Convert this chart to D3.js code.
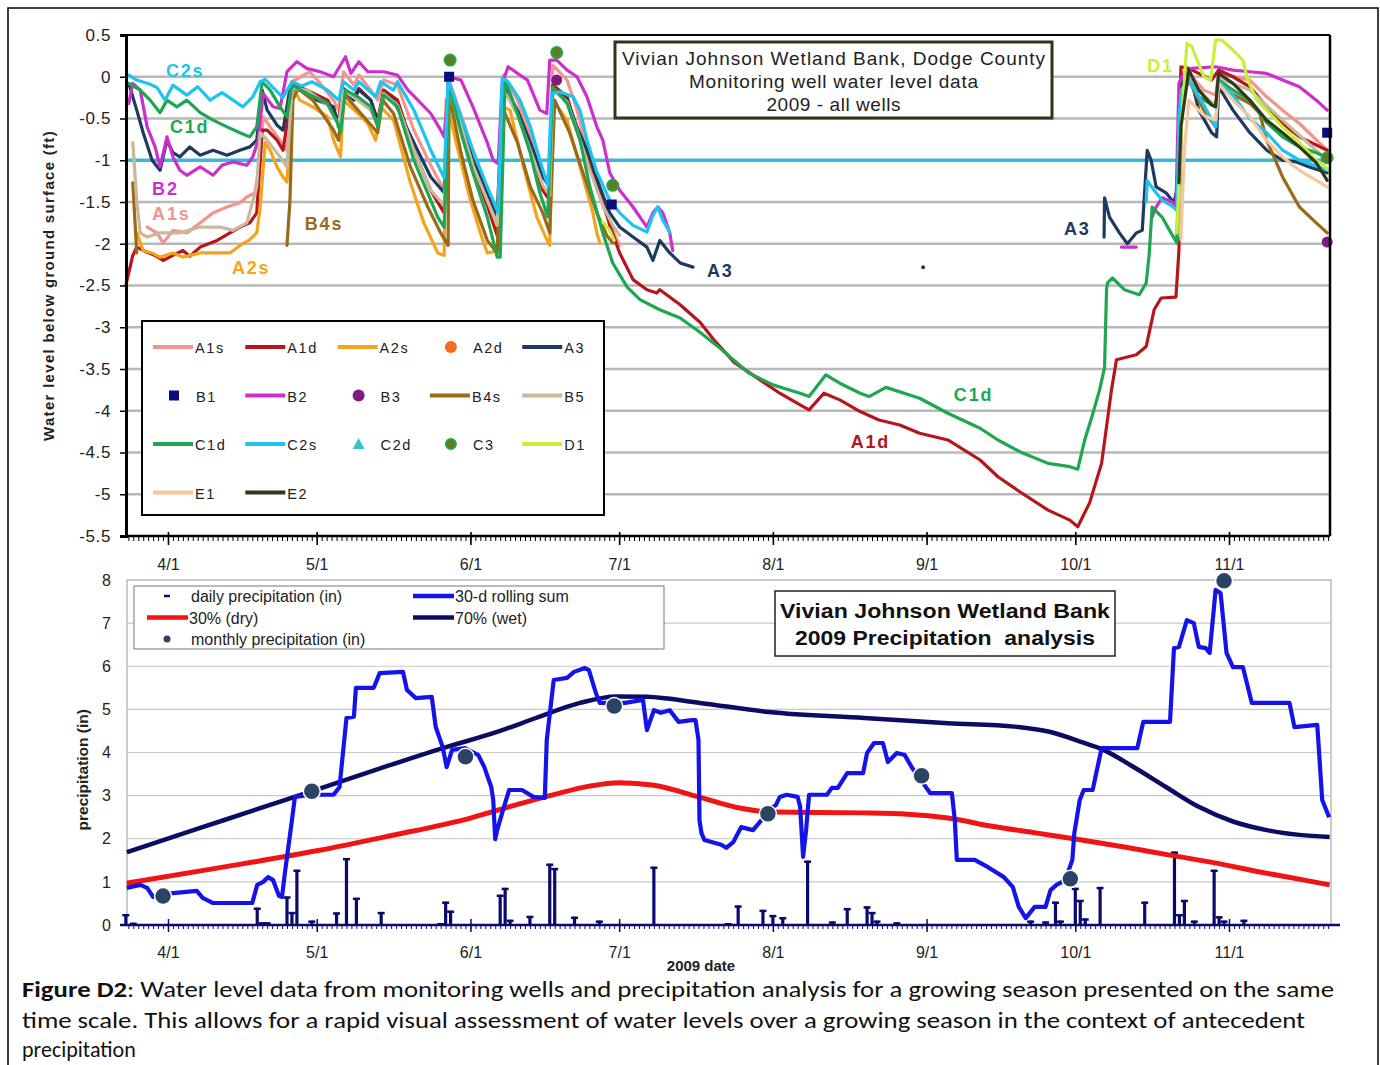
<!DOCTYPE html>
<html>
<head>
<meta charset="utf-8">
<script src="https://cdn.jsdelivr.net/npm/d3@7"></script>
<style>
  body { margin: 0; background: #fff; }
  svg { display: block; font-family: "Liberation Sans", Arial, sans-serif; }
</style>
</head>
<body>
<svg id="chart" width="1380" height="1065"></svg>
<script>
// ---------- Well water level data (ft), [date m/d, value] ----------
const wellA1s = [
  ["3/27.8",-1.8],["3/29.8",-1.87],["3/31",-1.99],["4/2",-1.84],["4/4.8",-1.87],["4/7.5",-1.75],["4/10.1",-1.63],
  ["4/12.9",-1.56],["4/15.5",-1.51],["4/16.9",-1.44],["4/18.5",-1.39],["4/19.6",-1.0],["4/20.2",-0.48],["4/21.6",-0.6],
  ["4/23.6",-0.76],["4/25",-0.88],["4/26",-0.06],["4/29.6",0.06],["5/1.7",-0.08],["5/4.4",-0.28],["5/5.4",-0.4],
  ["5/6.4",0.06],["5/8.5",-0.1],["5/9.5",0.02],["5/11.9",-0.16],["5/13.3",-0.28],["5/14.5",-0.04],["5/17.3",-0.1],
  ["5/20.6",-0.64],["5/24",-1.06],["5/26.7",-1.36],["5/27.7",-0.04],["5/30.1",-0.46],["6/1.5",-0.88],["6/4.4",-1.36],
  ["6/6.4",-1.74],["6/7.6",0.02],["6/10.5",-0.28],["6/13.1",-0.7],["6/15.6",-1.14],["6/17",-1.3],["6/17.6",0.14],
  ["6/20.5",-0.04],["6/22.5",-0.4],["6/25.1",-1.0],["6/27.7",-1.54],["6/29.7",-1.84],["7/1.1",-2.02],
  null,
  ["10/21.5",-1.9],["10/22.3",0.05],["10/23.9",0.04],["10/26.9",-0.16],["10/29.3",-0.22],["10/29.9",0.04],
  ["11/5.2",-0.04],["11/8.6",-0.24],["11/11.8",-0.4],["11/15.2",-0.56],["11/20.8",-0.88]
];
const wellA1d = [
  ["3/23.5",-2.5],["3/24.9",-2.14],["3/25.7",-2.04],["3/27",-2.08],["3/29.4",-2.14],["3/31",-2.2],["4/2",-2.14],
  ["4/4",-2.08],["4/5.4",-2.15],["4/7.5",-2.04],["4/10.9",-1.96],["4/13.5",-1.87],["4/15.5",-1.8],["4/17.5",-1.75],
  ["4/18.9",-1.63],["4/20",-0.64],["4/21",-0.64],["4/23",-0.76],["4/24.2",-0.88],["4/26.2",-0.1],["4/29",-0.16],
  ["5/3.2",-0.28],["5/5.4",-0.52],["5/6.4",-0.14],["5/8.5",-0.24],["5/9.5",-0.14],["5/11.9",-0.28],["5/13.3",-0.52],
  ["5/14.5",-0.16],["5/17.3",-0.28],["5/20.6",-0.88],["5/24",-1.36],["5/26.7",-1.63],["5/27.7",-0.1],["5/30.1",-0.6],
  ["6/1.5",-1.06],["6/4.4",-1.54],["6/6.4",-1.9],["6/7.6",-0.1],["6/10.5",-0.44],["6/13.1",-0.88],["6/15.6",-1.36],
  ["6/17",-1.48],["6/17.6",-0.1],["6/20.5",-0.24],["6/22.5",-0.64],["6/25.1",-1.06],["6/27.7",-1.48],["6/29.1",-1.78],
  ["7/1.1",-2.11],["7/3.8",-2.43],["7/6.6",-2.55],["7/8.6",-2.59],["7/9.2",-2.55],["7/13.3",-2.73],["7/17.3",-2.94],
  ["7/20.1",-3.15],["7/24.2",-3.42],["7/29.4",-3.63],["8/2.4",-3.79],["8/6.5",-3.93],["8/8.3",-3.99],["8/11.3",-3.79],
  ["8/14.5",-3.87],["8/18.6",-4.01],["8/22.4",-4.11],["8/26.6",-4.17],["8/30.6",-4.27],["9/5.3",-4.35],["9/11.8",-4.59],
  ["9/15.4",-4.79],["9/19.8",-4.97],["9/25.5",-5.19],["9/29.9",-5.31],["10/1.5",-5.39],["10/3.9",-5.1],["10/6.3",-4.63],
  ["10/8.3",-3.75],["10/9.3",-3.39],["10/13.3",-3.33],["10/15.3",-3.23],["10/16.9",-2.79],["10/18.3",-2.65],
  ["10/21.3",-2.64],["10/21.9",-2.08],["10/22.3",0.12],["10/23.9",0.1],["10/28.5",-0.04],["10/29.9",0.08],
  ["11/1.8",0.0],["11/5.2",-0.12],["11/8.6",-0.36],["11/11.8",-0.56],["11/15.2",-0.72],["11/20.8",-0.88]
];
const wellA2s = [
  ["3/25.7",-1.87],["3/27",-2.08],["3/28.8",-2.11],["3/30.4",-2.16],["4/2",-2.11],["4/4",-2.16],["4/7.5",-2.11],
  ["4/10.1",-2.11],["4/13.5",-2.11],["4/15.5",-2.02],["4/17.5",-1.95],["4/18.9",-1.87],["4/19.6",-1.56],["4/20.6",-0.79],
  ["4/21.6",-0.88],["4/23",-1.08],["4/24.2",-1.2],["4/25",-1.26],["4/26.2",-0.14],["4/27.6",-0.28],["4/30.2",-0.36],
  ["5/3.2",-0.48],["5/4.4",-0.76],["5/5.8",-0.96],["5/6.4",-0.28],["5/9.3",-0.44],["5/11.3",-0.56],["5/12.9",-0.76],
  ["5/13.9",-0.36],["5/16.5",-0.52],["5/19.9",-1.27],["5/22.6",-1.75],["5/25.4",-2.11],["5/26.7",-2.14],["5/27.1",-0.28],
  ["5/29.5",-0.88],["6/1",-1.48],["6/3",-1.87],["6/4.4",-2.11],["6/7",-2.08],["6/7.4",-0.36],["6/9",-0.4],
  ["6/11.7",-1.08],["6/14.4",-1.68],["6/16.4",-1.95],["6/17",-2.02],["6/17.6",-0.28],["6/20.5",-0.52],["6/23.1",-1.08],
  ["6/25.7",-1.63],["6/26.5",-1.87],["6/27.1",-1.99]
];
const wellA3 = [
  ["3/24.1",-0.08],["3/25.7",-0.4],["3/27",-0.67],["3/28.8",-1.0],["3/30.4",-1.12],["3/31.8",-0.76],["4/2",-0.91],
  ["4/3.4",-0.96],["4/5.4",-0.84],["4/7.5",-0.94],["4/10.1",-0.88],["4/12.9",-0.94],["4/15.5",-0.88],["4/17.5",-0.84],
  ["4/18.9",-0.76],["4/20",-0.16],["4/21",-0.4],["4/23",-0.58],["4/24.2",-0.64],["4/25.6",-0.14],["4/27.6",-0.16],
  ["5/1",-0.28],["5/4.4",-0.36],["5/5.4",-0.6],["5/6.4",-0.16],["5/8.5",-0.28],["5/9.5",-0.16],["5/11.9",-0.28],
  ["5/13.3",-0.55],["5/14.5",-0.2],["5/16.5",-0.28],["5/20.6",-0.79],["5/24",-1.2],["5/26.7",-1.39],["5/27.5",-0.06],
  ["5/30.1",-0.52],["6/1.5",-1.0],["6/4.4",-1.39],["6/6.4",-1.66],["6/7.6",-0.08],["6/10.5",-0.4],["6/13.1",-0.79],
  ["6/15.6",-1.2],["6/17",-1.32],["6/17.6",-0.16],["6/20.5",-0.28],["6/22.5",-0.6],["6/25.1",-0.96],["6/27.1",-1.32],
  ["6/29.1",-1.63],["7/1.1",-1.8],["7/3.8",-1.92],["7/6.6",-2.04],["7/7.8",-2.2],["7/9.2",-1.96],["7/11.2",-2.11],
  ["7/13.3",-2.23],["7/15.9",-2.28],
  null,
  ["10/6.8",-1.92],["10/6.9",-1.45],["10/7.9",-1.68],["10/9.9",-1.87],["10/11.5",-2.0],["10/13.3",-1.87],["10/14.5",-1.84],
  ["10/15.5",-0.88],["10/16.3",-1.0],["10/17.3",-1.32],["10/19.3",-1.39],["10/20.9",-1.51],["10/21.9",-1.24],
  ["10/22.5",-0.08],["10/23.9",0.08],["10/25.9",-0.4],["10/28.5",-0.67],["10/29.5",-0.72],["10/29.9",-0.12],
  ["11/1.8",-0.4],["11/5.2",-0.67],["11/8.6",-0.88],["11/11.8",-1.0],["11/14.6",-1.02],["11/17.2",-1.08],["11/20.8",-1.15]
];
const wellA3Dot = [["8/31.3",-2.28]];
const wellB2 = [
  ["3/24.1",-0.32],["3/24.9",-0.08],["3/26.4",-0.16],["3/27.8",-0.6],["3/29.4",-0.84],["3/30.4",-1.08],["3/31.8",-0.72],
  ["4/2",-0.96],["4/3.4",-1.12],["4/4.8",-1.18],["4/7.5",-1.08],["4/10.1",-1.18],["4/11.9",-1.06],["4/14.1",-1.02],
  ["4/16.9",-1.06],["4/18.1",-0.96],["4/19.2",-0.76],["4/20.2",-0.2],["4/21.2",-0.28],["4/22.2",-0.36],["4/23.6",-0.38],
  ["4/25",0.06],["4/27",0.18],["4/29",0.1],["5/1.7",0.06],["5/4.4",0.0],["5/6.8",0.24],["5/7.9",0.04],["5/9.5",0.18],
  ["5/11.3",0.06],["5/14.5",0.06],["5/17.3",0.02],["5/19.4",-0.16],["5/21.4",-0.28],["5/24",-0.44],["5/26",-0.64],
  ["5/26.7",-0.72],["5/27.7",0.0],["5/30.1",-0.04],["6/1.5",-0.36],["6/4.4",-0.79],["6/5.6",-1.0],["6/6.6",-1.04],
  ["6/7.4",-0.08],["6/8.6",0.12],["6/10.5",0.04],["6/12.5",-0.04],["6/15",-0.4],["6/16.4",-0.44],["6/17",0.2],
  ["6/18.4",0.2],["6/20.5",0.08],["6/22.5",0.0],["6/24.5",-0.24],["6/26.5",-0.6],["6/27.7",-0.76],["6/29.1",-1.15],
  ["7/1.1",-1.36],["7/3.8",-1.56],["7/6.6",-1.8],["7/7.8",-1.63],["7/8.8",-1.56],["7/9.8",-1.63],["7/11.2",-1.87],
  ["7/11.8",-2.08],
  null,
  ["10/10.3",-2.04],["10/13.3",-2.04],
  null,
  ["10/16.5",-1.68],["10/17.3",-1.56],["10/18.5",-1.45],["10/20.5",-1.5],["10/21.3",-1.56],["10/21.9",-0.08],
  ["10/22.5",0.0],["10/24.5",0.1],["10/29.3",0.12],["11/1.8",0.08],["11/5.2",0.06],["11/8.6",0.04],["11/11.8",-0.04],
  ["11/15.2",-0.12],["11/18.6",-0.28],["11/20.8",-0.4]
];
const wellB4s = [
  ["3/24.9",-1.27],["3/25.7",-2.11],
  null,
  ["4/25",-2.02],["4/25.6",-1.48],["4/26.2",-0.28],["4/27.2",-0.14],["4/30.2",-0.28],["5/4.4",-0.64],["5/5.4",-0.76],
  ["5/6.4",-0.2],["5/9.3",-0.4],["5/13.3",-0.67],["5/14.3",-0.28],["5/16.5",-0.44],["5/19.9",-1.08],["5/23.4",-1.56],
  ["5/26",-1.87],["5/27.5",-2.02],["5/27.7",-0.22],["5/30.1",-0.91],["6/1.5",-1.48],["6/4.4",-1.96],["6/6.4",-2.11],
  ["6/7.4",-0.36],["6/10.5",-0.79],["6/13.1",-1.32],["6/15.6",-1.63],["6/17",-1.87],["6/18",-0.28],["6/21",-0.67],
  ["6/23.7",-1.15],["6/26.5",-1.63],["6/28.5",-1.9],["6/29.7",-1.99],
  null,
  ["10/21.9",-1.9],["10/22.5",-0.28],["10/23.9",-0.04],["10/26.9",-0.4],["10/29.3",-0.6],["10/29.9",-0.12],
  ["11/5.2",-0.32],["11/7.2",-0.44],["11/8.6",-0.76],["11/11.8",-1.2],["11/15.2",-1.56],["11/18.6",-1.75],["11/20.8",-1.87]
];
const wellB5 = [
  ["3/24.9",-0.79],["3/25.7",-1.48],["3/26.4",-1.87],["3/27.8",-1.92],["3/30.4",-1.87],["4/3.4",-1.87],["4/7.5",-1.8],
  ["4/11.5",-1.8],["4/14.1",-1.84],["4/16.9",-1.75],["4/18.9",-1.32],["4/19.6",-0.67],["4/21",-0.76],["4/23.6",-0.96],
  ["4/25",-1.08],["4/26",-0.14],["4/29",-0.16],["5/3.2",-0.34],["5/5.4",-0.58],["5/6.4",-0.16],["5/9.3",-0.28],
  ["5/11.9",-0.4],["5/13.3",-0.58],["5/14.5",-0.2],["5/17.3",-0.34],["5/20.6",-0.88],["5/24",-1.36],["5/26.7",-1.54],
  ["5/27.7",-0.16],["5/30.1",-0.58],["6/1.5",-1.06],["6/4.4",-1.48],["6/6.4",-1.78],["6/7.6",-0.14],["6/10.5",-0.46],
  ["6/13.1",-0.88],["6/15.6",-1.3],["6/17",-1.42],["6/17.6",-0.16],["6/20.5",-0.3],["6/22.5",-0.64],["6/25.1",-1.12],
  ["6/27.7",-1.54],["6/29.7",-1.78],["7/1.1",-1.9],
  null,
  ["10/21.9",-1.9],["10/22.5",-0.16],["10/23.9",0.0],["10/26.9",-0.22],["10/29.3",-0.34],["10/29.9",-0.02],
  ["11/5.2",-0.16],["11/11.8",-0.52],["11/15.2",-0.7],["11/20.8",-1.0]
];
const wellC1d = [
  ["3/24.1",-0.08],["3/26.4",-0.16],["3/28.4",-0.28],["3/30.4",-0.43],["3/31.8",-0.28],["4/2.8",-0.36],["4/4.8",-0.28],
  ["4/7.5",-0.43],["4/10.1",-0.52],["4/12.9",-0.6],["4/15.5",-0.67],["4/17.5",-0.72],["4/18.9",-0.6],["4/20",-0.06],
  ["4/21.6",-0.16],["4/23.6",-0.36],["4/25",-0.48],["4/26",-0.1],["4/29",-0.2],["5/3.2",-0.32],["5/5.2",-0.55],
  ["5/5.8",-0.67],["5/6.8",-0.16],["5/9.3",-0.24],["5/11.9",-0.36],["5/13.3",-0.6],["5/14.5",-0.22],["5/17.3",-0.36],
  ["5/20.6",-1.0],["5/24",-1.48],["5/25.4",-1.68],["5/26.7",-1.8],["5/27.7",-0.1],["5/30.1",-0.67],["6/1.5",-1.15],
  ["6/4.4",-1.68],["6/6.4",-2.16],["6/7",-2.16],["6/8",-0.04],["6/10.5",-0.44],["6/13.1",-0.92],["6/15",-1.39],
  ["6/16.6",-1.68],["6/17.6",-0.12],["6/20.5",-0.32],["6/23.1",-0.76],["6/25.1",-1.32],["6/27.7",-1.87],["6/29.7",-2.23],
  ["7/2.6",-2.52],["7/5.2",-2.67],["7/8.2",-2.76],["7/9.2",-2.79],["7/13.3",-2.89],["7/17.3",-3.06],["7/21.3",-3.25],
  ["7/27.2",-3.55],["8/1",-3.69],["8/6.5",-3.79],["8/8.3",-3.83],["8/11.7",-3.57],["8/14.5",-3.67],["8/18.6",-3.79],
  ["8/20.4",-3.83],["8/23.8",-3.72],["8/30.6",-3.85],["9/5.3",-4.03],["9/11.8",-4.21],["9/15.4",-4.35],["9/19.8",-4.49],
  ["9/25.5",-4.63],["9/29.9",-4.67],["10/1.5",-4.7],["10/2.9",-4.35],["10/4.3",-4.08],["10/5.9",-3.75],["10/6.9",-3.48],
  ["10/7.3",-2.55],["10/7.5",-2.47],["10/8.5",-2.41],["10/10.9",-2.55],["10/13.9",-2.61],["10/15.3",-2.47],
  ["10/15.9",-2.13],["10/16.5",-1.56],["10/18.5",-1.68],["10/20.3",-1.87],["10/21.5",-1.99],["10/22.3",-0.28],
  ["10/23.5",0.0],["10/25.9",-0.24],["10/29.3",-0.36],["10/29.9",-0.04],["11/1.8",-0.16],["11/5.2",-0.28],
  ["11/8.6",-0.55],["11/11.8",-0.72],["11/15.2",-0.84],["11/18.6",-0.91],["11/20.8",-0.97]
];
const wellC2s = [
  ["3/24.1",0.02],["3/25.7",-0.04],["3/28.4",-0.09],["3/29.8",-0.13],["3/31.4",-0.28],["4/2",-0.1],["4/4.8",-0.22],
  ["4/7",-0.12],["4/9.5",-0.28],["4/11.9",-0.19],["4/16.1",-0.36],["4/18.1",-0.24],["4/19.6",-0.06],["4/20.6",-0.03],
  ["4/22.2",-0.13],["4/24.2",-0.25],["4/26",-0.06],["4/28",-0.11],["4/30",-0.06],["5/3.2",-0.16],["5/5.4",-0.28],
  ["5/6.4",-0.06],["5/8.5",-0.16],["5/9.5",-0.06],["5/12.9",-0.24],["5/13.9",-0.06],["5/16.5",-0.16],["5/17.3",-0.06],
  ["5/20.6",-0.4],["5/24",-0.88],["5/26.7",-1.21],["5/27.5",-0.04],["5/30.1",-0.48],["6/1.5",-0.88],["6/4.4",-1.32],
  ["6/6.6",-1.63],["6/7.4",-0.02],["6/8.6",-0.06],["6/11",-0.28],["6/13.1",-0.6],["6/15",-1.0],["6/16.6",-1.3],
  ["6/17.4",-0.2],["6/19",-0.18],["6/21.7",-0.24],["6/23.1",-0.4],["6/24.5",-0.76],["6/26.5",-1.14],["6/29.1",-1.48],
  ["7/1.1",-1.63],["7/3.8",-1.78],["7/6.6",-1.86],["7/7.8",-1.66],["7/8.8",-1.56],["7/9.8",-1.72],["7/11.2",-1.86],
  null,
  ["10/15.3",-1.5],["10/15.5",-1.24],["10/16.9",-1.36],["10/18.5",-1.48],["10/20.3",-1.54],["10/21.5",-1.6],
  ["10/21.9",-0.52],["10/22.3",-0.2],["10/23.9",-0.04],["10/26.9",-0.34],["10/29.3",-0.6],["10/29.9",-0.06],
  ["11/1.8",-0.22],["11/5.2",-0.5],["11/8.6",-0.67],["11/11.8",-0.88],["11/15.2",-1.0],["11/18.6",-1.07],["11/20.8",-1.12]
];
const wellD1 = [
  ["6/27.7",-1.74],["6/29.1",-1.84],["6/30",-1.96],
  null,
  ["10/21.5",-1.87],["10/22.3",-0.67],["10/23.5",0.4],["10/24.5",0.36],["10/26.9",0.0],["10/28.3",-0.04],
  ["10/29.3",0.44],["10/30.5",0.44],["11/1.8",0.32],["11/3.8",0.2],["11/4.8",-0.04],["11/6.6",-0.28],
  ["11/8.6",-0.4],["11/11.8",-0.6],["11/15.2",-0.79],["11/18.6",-1.0],["11/21.2",-1.12]
];
const wellE1 = [
  ["10/22.3",-1.95],["10/23",-0.88],["10/23.9",-0.28],["10/26.9",-0.46],["10/29.3",-0.52],["10/29.9",-0.08],
  ["11/1.8",-0.28],["11/5.2",-0.48],["11/8.6",-0.76],["11/11.8",-0.96],["11/15.2",-1.12],["11/20.8",-1.32]
];
const wellE2 = [
  ["10/21.9",-1.27],["10/22.3",-0.6],["10/23.9",0.08],["10/25.9",-0.16],["10/28.5",-0.34],["10/29.3",-0.36],
  ["10/29.9",0.04],["11/1.8",-0.08],["11/5.2",-0.28],["11/8.6",-0.52],["11/11.8",-0.67],["11/15.2",-0.84],
  ["11/18.6",-1.03],["11/20.8",-1.24]
];
const markB1 = [["5/27.7",0.0],["6/29.5",-1.53],["11/20.8",-0.67]];
const markB3 = [["6/18.4",-0.04],["11/20.8",-1.98]];
const markC3 = [["5/27.9",0.2],["6/18.4",0.29],["6/29.7",-1.3],["11/20.8",-0.97]];

// in-plot series labels [text, date, value]
const wellLabels = [
  ["C2s","3/31.6",0.0],["C1d","4/1.4",-0.67],["B2","3/28.8",-1.42],["A1s","3/28.8",-1.72],["A2s","4/13.9",-2.36],
  ["B4s","4/28.6",-1.84],["A3","7/18.7",-2.4],["A3","9/28.7",-1.89],["D1","10/15.5",0.06],["C1d","9/6.5",-3.88],
  ["A1d","8/16.7",-4.45]
];

const wellTicks = [0.5,0,-0.5,-1,-1.5,-2,-2.5,-3,-3.5,-4,-4.5,-5,-5.5];
const wellTickLabels = ["0.5","0","-0.5","-1","-1.5","-2","-2.5","-3","-3.5","-4","-4.5","-5","-5.5"];
const monthLabels = ["4/1","5/1","6/1","7/1","8/1","9/1","10/1","11/1"];

// ---------- Precipitation data (in) ----------
const rainDaily = [
  ["3/23.5",0.25],["3/25",0.05],["4/19",0.4],["4/20",0.06],["4/21",0.06],["4/25",0.66],["4/26",0.3],["4/27",1.28],
  ["4/30",0.1],["5/5",0.29],["5/7",1.55],["5/9",0.63],["5/14",0.3],["5/26",0.04],["5/27",0.54],["5/28",0.33],
  ["6/7",0.7],["6/8",0.86],["6/9",0.12],["6/13",0.21],["6/17",1.42],["6/18",1.32],["6/22",0.19],["6/27",0.1],
  ["7/8",1.35],["7/23",0.04],["7/25",0.45],["7/30",0.35],["8/1",0.23],["8/3",0.18],["8/8",1.49],["8/13",0.08],
  ["8/16",0.39],["8/20",0.43],["8/21",0.3],["8/22",0.1],["8/26",0.06],["9/22",0.1],["9/25",0.08],["9/27",0.54],
  ["9/28",0.1],["10/1",0.86],["10/2",0.58],["10/3",0.15],["10/6",0.88],["10/15",0.54],["10/21",1.7],["10/22",0.25],
  ["10/23",0.58],["10/25",0.1],["10/29",1.28],["10/30",0.2],["10/31",0.1],["11/4",0.12]
];
const rainRolling = [
  ["3/23.7",0.86],["3/26.4",0.93],["3/27.8",0.86],["3/29",0.65],["3/31",0.74],["4/2",0.74],["4/6.8",0.79],["4/8",0.63],
  ["4/10.1",0.51],["4/18",0.51],["4/19",0.93],["4/20.2",1.0],["4/21.2",1.11],["4/22.2",1.04],["4/23.4",0.67],
  ["4/24",0.65],["4/24.6",1.23],["4/25.2",1.74],["4/26",2.43],["4/26.6",2.97],["4/30",3.02],["5/4.4",3.02],
  ["5/5.6",3.2],["5/7",4.8],["5/8.5",4.83],["5/8.9",5.5],["5/12.5",5.5],["5/13.7",5.84],["5/18.4",5.87],["5/19.2",5.45],
  ["5/21",5.26],["5/24.2",5.29],["5/25",4.59],["5/26.4",4.13],["5/27.2",3.66],["5/28.3",4.06],["5/30.9",4.1],
  ["6/2.6",3.94],["6/3.8",3.66],["6/5.2",3.2],["6/5.6",2.9],["6/6",1.99],["6/6.4",2.2],["6/7.4",2.6],["6/8.8",3.13],
  ["6/11.4",3.13],["6/13.7",2.97],["6/16",2.95],["6/16.4",4.29],["6/17.8",5.68],["6/20.5",5.73],["6/21.9",5.87],
  ["6/24.1",5.96],["6/24.9",5.91],["6/26.3",5.38],["6/27.1",5.15],["7/2.2",5.15],["7/5.8",5.22],["7/6.6",4.52],
  ["7/8",4.98],["7/9.4",4.92],["7/11.2",4.98],["7/13",4.71],["7/15.6",4.75],["7/16.4",4.75],["7/17",4.29],
  ["7/17.2",2.43],["7/17.6",2.13],["7/18.2",1.97],["7/21.6",1.86],["7/22.6",1.79],["7/24",1.92],["7/25.6",2.27],
  ["7/28",2.2],["7/29.4",2.39],["7/31.2",2.67],["8/1.6",2.78],["8/2.4",2.97],["8/3.8",3.02],["8/6",2.97],["8/6.5",2.74],
  ["8/7.1",1.58],["8/7.7",2.2],["8/8.3",3.02],["8/11.9",3.02],["8/12.9",3.18],["8/14.1",3.18],["8/16",3.52],
  ["8/19.2",3.52],["8/20",3.99],["8/21.4",4.22],["8/23.2",4.22],["8/24.2",3.78],["8/26",3.99],["8/27.6",3.94],
  ["8/29",3.66],["8/31.3",3.29],["9/1.7",3.06],["9/6.1",3.06],["9/6.7",2.43],["9/7.1",1.51],["9/10.7",1.51],
  ["9/13.4",1.34],["9/16.6",1.11],["9/18.4",0.88],["9/19.6",0.42],["9/21",0.16],["9/22.8",0.42],["9/25",0.42],
  ["9/26",0.81],["9/27.2",0.93],["9/29",1.04],["9/30.4",1.51],["9/30.8",2.13],["10/1.9",2.9],["10/2.7",3.13],
  ["10/4.5",3.13],["10/6.3",4.1],["10/13.5",4.1],["10/14.7",4.71],["10/20.1",4.71],["10/20.9",6.42],["10/21.9",6.45],
  ["10/23.5",7.07],["10/24.9",7.0],["10/25.9",6.45],["10/27.3",6.42],["10/28.1",6.31],["10/29.3",7.77],["10/30.3",7.7],
  ["10/31.5",6.31],["11/1.8",5.98],["11/3.8",5.98],["11/5.6",5.15],["11/13.2",5.15],["11/14.2",4.59],["11/18.8",4.64],
  ["11/19.8",2.9],["11/21.2",2.5]
];
const rainDry = [
  ["3/23.7",0.97],["4/11.5",1.33],["5/1",1.72],["5/15",2.05],["6/1",2.48],["6/10",2.78],["6/18",3.03],
  ["6/25",3.22],["7/1",3.3],["7/8",3.24],["7/17",2.97],["7/25",2.72],["8/1",2.62],["8/19.4",2.6],["8/28.2",2.57],
  ["9/5.3",2.48],["9/14.2",2.29],["9/23.3",2.13],["10/2.3",1.97],["10/10.9",1.81],["10/20.1",1.62],["10/29.1",1.44],
  ["11/7.2",1.23],["11/16.2",1.04],["11/21.3",0.93]
];
const rainWet = [
  ["3/23.7",1.69],["4/7.5",2.25],["4/17.5",2.63],["5/1",3.14],["5/13.8",3.63],["5/26.4",4.1],["6/7",4.5],
  ["6/14.2",4.8],["6/23.1",5.15],["6/30.4",5.3],["7/6.6",5.29],["7/17.3",5.15],["7/31.2",4.94],["8/19.4",4.8],
  ["9/5.3",4.68],["9/18.8",4.6],["9/25.8",4.48],["10/2.3",4.24],["10/6.7",4.06],["10/12.5",3.68],["10/19.3",3.2],
  ["10/25.9",2.74],["11/1.8",2.4],["11/8.6",2.2],["11/15.2",2.09],["11/21.3",2.04]
];
const rainMonthly = [
  ["3/31",0.67],["4/30",3.1],["5/31",3.9],["6/30",5.08],["7/31",2.58],["8/31",3.46],["9/30",1.07],["10/31",7.98]
];
const rainTicks = [0,1,2,3,4,5,6,7,8];

// ---------- helpers and scales ----------
function parseMD(s) {
  const [m, d] = s.split("/").map(Number);
  const whole = Math.floor(d);
  return new Date(new Date(2009, m - 1, whole).getTime() + (d - whole) * 864e5);
}
const FONT = '"Liberation Sans", Arial, sans-serif';
const svg = d3.select("#chart");

const x = d3.scaleTime().domain([parseMD("3/23.33"), parseMD("11/21.37")]).range([125, 1330]);
const yWell = d3.scaleLinear().domain([-5.5, 0.5]).range([536, 35]);
const yRain = d3.scaleLinear().domain([0, 8]).range([925, 580]);
const x0 = x.range()[0], x1 = x.range()[1];

// outer figure frame
svg.append("rect").attr("x", 8).attr("y", 8).attr("width", 1370).attr("height", 1080)
  .attr("fill", "none").attr("stroke", "#000").attr("stroke-width", 1.5);

// ======================= TOP: well water levels =======================
const topG = svg.append("g");

topG.selectAll("line.grid").data(wellTicks.filter(v => v > -5.5 && v < 0.5)).enter()
  .append("line").attr("class", "grid")
  .attr("x1", x0 + 2).attr("x2", x1).attr("y1", d => yWell(d)).attr("y2", d => yWell(d))
  .attr("stroke", "#b8b8b8").attr("stroke-width", 2.5);

// -1 ft reference line
topG.append("line").attr("x1", x0 + 2).attr("x2", x1).attr("y1", yWell(-1)).attr("y2", yWell(-1))
  .attr("stroke", "#3ab8dc").attr("stroke-width", 3.5);

const wellSeries = [
  { name: "A1s", data: wellA1s, color: "#f4948c" },
  { name: "A1d", data: wellA1d, color: "#b5161b" },
  { name: "A2s", data: wellA2s, color: "#f5a31c" },
  { name: "A3",  data: wellA3,  color: "#1f3a60" },
  { name: "B2",  data: wellB2,  color: "#cc2fcc" },
  { name: "B4s", data: wellB4s, color: "#9a6a18" },
  { name: "B5",  data: wellB5,  color: "#c9b99b" },
  { name: "C1d", data: wellC1d, color: "#1ea650" },
  { name: "C2s", data: wellC2s, color: "#1ec3f0" },
  { name: "D1",  data: wellD1,  color: "#c6f03a" },
  { name: "E1",  data: wellE1,  color: "#f7c79b" },
  { name: "E2",  data: wellE2,  color: "#2f3a1c" }
];
const colorOf = Object.fromEntries(wellSeries.map(s => [s.name, s.color]));

const wellLine = d3.line()
  .defined(d => d !== null)
  .x(d => x(parseMD(d[0])))
  .y(d => yWell(d[1]));

topG.selectAll("path.well").data(wellSeries).enter()
  .append("path").attr("class", "well")
  .attr("d", d => wellLine(d.data))
  .attr("fill", "none")
  .attr("stroke", d => d.color)
  .attr("stroke-width", 3.2)
  .attr("stroke-linejoin", "round")
  .attr("stroke-linecap", "round");

topG.selectAll("circle.a3dot").data(wellA3Dot).enter().append("circle")
  .attr("cx", d => x(parseMD(d[0]))).attr("cy", d => yWell(d[1])).attr("r", 2)
  .attr("fill", colorOf.A3);

// markers
topG.selectAll("rect.b1").data(markB1).enter().append("rect")
  .attr("x", d => x(parseMD(d[0])) - 5).attr("y", d => yWell(d[1]) - 5)
  .attr("width", 10).attr("height", 10).attr("fill", "#0b0b80");
topG.selectAll("circle.b3").data(markB3).enter().append("circle")
  .attr("cx", d => x(parseMD(d[0]))).attr("cy", d => yWell(d[1])).attr("r", 5.5)
  .attr("fill", "#7f1a80");
topG.selectAll("circle.c3").data(markC3).enter().append("circle")
  .attr("cx", d => x(parseMD(d[0]))).attr("cy", d => yWell(d[1])).attr("r", 5.5)
  .attr("fill", "#5e7d1c").attr("stroke", "#2aa24a").attr("stroke-width", 2);

// frame
topG.append("line").attr("x1", x0 + 1).attr("x2", x1).attr("y1", yWell(0.5)).attr("y2", yWell(0.5))
  .attr("stroke", "#000").attr("stroke-width", 2);
topG.append("line").attr("x1", x1).attr("x2", x1).attr("y1", yWell(0.5)).attr("y2", yWell(-5.5))
  .attr("stroke", "#000").attr("stroke-width", 2.5);

// y axis
const yAxisTop = topG.append("g").attr("transform", `translate(${x0 + 1},0)`)
  .call(d3.axisLeft(yWell).tickValues(wellTicks).tickSize(6).tickPadding(9)
    .tickFormat((d, i) => wellTickLabels[i]));
yAxisTop.select(".domain").attr("stroke", "#000").attr("stroke-width", 3);
yAxisTop.selectAll(".tick line").attr("stroke", "#000").attr("stroke-width", 1.5);
yAxisTop.selectAll(".tick text").attr("font-family", FONT).attr("font-size", 17)
  .attr("letter-spacing", 0.6).attr("fill", "#222");

topG.append("text")
  .attr("transform", `translate(54,${(yWell(0.5) + yWell(-5.5)) / 2}) rotate(-90)`)
  .attr("text-anchor", "middle").attr("font-family", FONT).attr("font-weight", "bold")
  .attr("font-size", 15).attr("letter-spacing", 1.3).attr("fill", "#222")
  .text("Water level below ground surface (ft)");

// x axis (daily minor + monthly major)
const days = d3.timeDay.range(parseMD("3/24"), parseMD("11/22")).filter(d => x(d) <= x1 - 1);
const monthDates = monthLabels.map(parseMD);

const xMinorTop = topG.append("g").attr("transform", `translate(0,${yWell(-5.5)})`)
  .call(d3.axisBottom(x).tickValues(days).tickSize(5).tickSizeOuter(0).tickFormat(""));
xMinorTop.select(".domain").remove();
xMinorTop.selectAll(".tick line").attr("stroke", "#000").attr("stroke-width", 1);

const xMajorTop = topG.append("g").attr("transform", `translate(0,${yWell(-5.5)})`)
  .call(d3.axisBottom(x).tickValues(monthDates).tickSize(9).tickPadding(14)
    .tickFormat((d, i) => monthLabels[i]));
xMajorTop.select(".domain").remove();
xMajorTop.selectAll(".tick line").attr("y1", -4).attr("stroke", "#000").attr("stroke-width", 1.6);
xMajorTop.selectAll(".tick text").attr("font-family", FONT).attr("font-size", 16).attr("fill", "#222");

topG.append("line").attr("x1", x0).attr("x2", x1).attr("y1", yWell(-5.5)).attr("y2", yWell(-5.5))
  .attr("stroke", "#000").attr("stroke-width", 2.5);

// in-plot labels
topG.selectAll("text.wlabel").data(wellLabels).enter().append("text")
  .attr("x", d => x(parseMD(d[1]))).attr("y", d => yWell(d[2]))
  .attr("font-family", FONT).attr("font-weight", "bold").attr("font-size", 18)
  .attr("letter-spacing", 1.8).attr("fill", d => colorOf[d[0]])
  .text(d => d[0]);

// title box
topG.append("rect").attr("x", 615).attr("y", 42).attr("width", 437).attr("height", 76)
  .attr("fill", "#fff").attr("stroke", "#33331a").attr("stroke-width", 3);
const topTitle = [
  ["Vivian Johnson Wetland Bank, Dodge County", 65, 423],
  ["Monitoring well water level data", 88, 289],
  ["2009 - all wells", 111, 134]
];
topG.selectAll("text.ttl").data(topTitle).enter().append("text")
  .attr("x", 833.5).attr("y", d => d[1]).attr("text-anchor", "middle")
  .attr("font-family", FONT).attr("font-size", 19).attr("fill", "#222")
  .attr("textLength", d => d[2]).attr("lengthAdjust", "spacing")
  .text(d => d[0]);

// legend
const legendItems = [
  ["A1s","line"],["A1d","line"],["A2s","line"],["A2d","circle"],["A3","line"],
  ["B1","square"],["B2","line"],["B3","circle"],["B4s","line"],["B5","line"],
  ["C1d","line"],["C2s","line"],["C2d","triangle"],["C3","ring"],["D1","line"],
  ["E1","line"],["E2","line"]
];
const markerColor = { A2d: "#f26c1c", B1: "#0b0b80", B3: "#7f1a80", C2d: "#33c4c4", C3: "#5e7d1c" };
topG.append("rect").attr("x", 142).attr("y", 321).attr("width", 462).attr("height", 194)
  .attr("fill", "#fff").attr("stroke", "#000").attr("stroke-width", 2);
const leg = topG.selectAll("g.leg").data(legendItems).enter().append("g")
  .attr("transform", (d, i) => `translate(${153 + (i % 5) * 92.3},${347 + Math.floor(i / 5) * 48.5})`);
leg.each(function (d) {
  const g = d3.select(this);
  const [name, kind] = d;
  if (kind === "line") {
    g.append("line").attr("x1", 0).attr("x2", 40).attr("stroke", colorOf[name]).attr("stroke-width", 4);
  } else if (kind === "square") {
    g.append("rect").attr("x", 16).attr("y", -5).attr("width", 10).attr("height", 10).attr("fill", markerColor[name]);
  } else if (kind === "triangle") {
    g.append("path").attr("d", "M21,-6 L27,5 L15,5 Z").attr("fill", markerColor[name]);
  } else if (kind === "ring") {
    g.append("circle").attr("cx", 21).attr("r", 5).attr("fill", markerColor[name])
      .attr("stroke", "#2aa24a").attr("stroke-width", 2);
  } else {
    g.append("circle").attr("cx", 21).attr("r", 6).attr("fill", markerColor[name]);
  }
  g.append("text").attr("x", kind === "line" ? 42 : 43).attr("y", 6)
    .attr("font-family", FONT).attr("font-size", 14.5).attr("letter-spacing", 1.6).attr("fill", "#222")
    .text(name);
});

// ======================= BOTTOM: precipitation =======================
const botG = svg.append("g");

botG.append("rect").attr("x", x0 + 2).attr("y", yRain(8)).attr("width", x1 - x0 - 1).attr("height", yRain(0) - yRain(8))
  .attr("fill", "none").attr("stroke", "#a8a8a8").attr("stroke-width", 1.2);
botG.selectAll("line.rgrid").data(rainTicks.filter(v => v > 0 && v < 8)).enter()
  .append("line").attr("x1", x0 + 2).attr("x2", x1 + 1).attr("y1", d => yRain(d)).attr("y2", d => yRain(d))
  .attr("stroke", "#c8c8c8").attr("stroke-width", 1.2);

// daily bars
botG.selectAll("line.bar").data(rainDaily).enter().append("line")
  .attr("x1", d => x(parseMD(d[0]))).attr("x2", d => x(parseMD(d[0])))
  .attr("y1", yRain(0)).attr("y2", d => yRain(d[1]))
  .attr("stroke", "#0a0a6e").attr("stroke-width", 3.2);
botG.selectAll("line.cap").data(rainDaily).enter().append("line")
  .attr("x1", d => x(parseMD(d[0])) - 3.5).attr("x2", d => x(parseMD(d[0])) + 3.5)
  .attr("y1", d => yRain(d[1]) + 1).attr("y2", d => yRain(d[1]) + 1)
  .attr("stroke", "#0a0a6e").attr("stroke-width", 2.5);

const rainLine = d3.line().x(d => x(parseMD(d[0]))).y(d => yRain(d[1]));
const rainCurve = d3.line().curve(d3.curveMonotoneX).x(d => x(parseMD(d[0]))).y(d => yRain(d[1]));

botG.append("path").attr("d", rainCurve(rainDry)).attr("fill", "none")
  .attr("stroke", "#f01414").attr("stroke-width", 5);
botG.append("path").attr("d", rainCurve(rainWet)).attr("fill", "none")
  .attr("stroke", "#0c0c64").attr("stroke-width", 4.5);
botG.append("path").attr("d", rainLine(rainRolling)).attr("fill", "none")
  .attr("stroke", "#1414ea").attr("stroke-width", 4.2).attr("stroke-linejoin", "round");

botG.selectAll("circle.month").data(rainMonthly).enter().append("circle")
  .attr("cx", d => x(parseMD(d[0]))).attr("cy", d => yRain(d[1])).attr("r", 8.5)
  .attr("fill", "#2b4466").attr("stroke", "#fff").attr("stroke-width", 1.5);

// y axis
const yAxisBot = botG.append("g").attr("transform", `translate(${x0 + 2},0)`)
  .call(d3.axisLeft(yRain).tickValues(rainTicks).tickSize(0).tickPadding(16).tickFormat(d => String(d)));
yAxisBot.select(".domain").remove();
yAxisBot.selectAll(".tick text").attr("font-family", FONT).attr("font-size", 16).attr("fill", "#222");

botG.append("text")
  .attr("transform", `translate(88,${yRain(3.6)}) rotate(-90)`)
  .attr("text-anchor", "middle").attr("font-family", FONT).attr("font-weight", "bold")
  .attr("font-size", 15.5).attr("fill", "#222")
  .text("precipitation (in)");

// x axis
const xMinorBot = botG.append("g").attr("transform", `translate(0,${yRain(0)})`)
  .call(d3.axisBottom(x).tickValues(days).tickSize(4).tickSizeOuter(0).tickFormat(""));
xMinorBot.select(".domain").remove();
xMinorBot.selectAll(".tick line").attr("stroke", "#0a0a6e").attr("stroke-width", 1);
const xMajorBot = botG.append("g").attr("transform", `translate(0,${yRain(0)})`)
  .call(d3.axisBottom(x).tickValues(monthDates).tickSize(7).tickPadding(15)
    .tickFormat((d, i) => monthLabels[i]));
xMajorBot.select(".domain").remove();
xMajorBot.selectAll(".tick line").attr("y1", -6).attr("stroke", "#0a0a6e").attr("stroke-width", 1.5);
xMajorBot.selectAll(".tick text").attr("font-family", FONT).attr("font-size", 16).attr("fill", "#222");
botG.append("line").attr("x1", x0 - 5).attr("x2", x1 + 10).attr("y1", yRain(0)).attr("y2", yRain(0))
  .attr("stroke", "#0a0a6e").attr("stroke-width", 2.5);

botG.append("text").attr("x", 701).attr("y", 971).attr("text-anchor", "middle")
  .attr("font-family", FONT).attr("font-weight", "bold").attr("font-size", 15).attr("fill", "#222")
  .text("2009 date");

// legend
botG.append("rect").attr("x", 134).attr("y", 586).attr("width", 530).attr("height", 63)
  .attr("fill", "#fff").attr("stroke", "#777").attr("stroke-width", 1);
const rainLegend = [
  { label: "daily precipitation (in)", kind: "dash", col: 0, row: 0, color: "#0a0a6e" },
  { label: "30-d rolling sum", kind: "line", col: 1, row: 0, color: "#1414ea" },
  { label: "30% (dry)", kind: "line", col: 0, row: 1, color: "#f01414" },
  { label: "70% (wet)", kind: "line", col: 1, row: 1, color: "#0c0c64" },
  { label: "monthly precipitation (in)", kind: "dot", col: 0, row: 2, color: "#2b4466" }
];
const rl = botG.selectAll("g.rleg").data(rainLegend).enter().append("g")
  .attr("transform", d => `translate(${d.col ? 413 : 147},${596 + d.row * 21.5})`);
rl.each(function (d) {
  const g = d3.select(this);
  if (d.kind === "line") {
    g.append("line").attr("x1", 0).attr("x2", 41).attr("stroke", d.color).attr("stroke-width", 4.5);
  } else if (d.kind === "dash") {
    g.append("line").attr("x1", 17).attr("x2", 23).attr("stroke", d.color).attr("stroke-width", 2.5);
  } else {
    g.append("circle").attr("cx", 20).attr("r", 3.5).attr("fill", d.color);
  }
  g.append("text").attr("x", d.kind === "line" ? 42 : 44).attr("y", 6)
    .attr("font-family", FONT).attr("font-size", 16).attr("fill", "#222").text(d.label);
});

// title box
botG.append("rect").attr("x", 775).attr("y", 591).attr("width", 340).attr("height", 65)
  .attr("fill", "#fff").attr("stroke", "#222").attr("stroke-width", 1.5);
const botTitle = [["Vivian Johnson Wetland Bank", 618, 330], ["2009 Precipitation  analysis", 645, 300]];
botG.selectAll("text.bttl").data(botTitle).enter().append("text")
  .attr("x", 945).attr("y", d => d[1]).attr("text-anchor", "middle")
  .attr("font-family", FONT).attr("font-weight", "bold").attr("font-size", 20).attr("fill", "#111")
  .attr("textLength", d => d[2]).attr("lengthAdjust", "spacingAndGlyphs")
  .style("white-space", "pre")
  .text(d => d[0]);

// ======================= caption =======================
const CAP = 'Carlito, Calibri, Lato, "Open Sans", sans-serif';
const cap1 = svg.append("text").attr("x", 22).attr("y", 997)
  .attr("font-family", CAP).attr("font-size", 22).attr("fill", "#111")
  .attr("textLength", 1312).attr("lengthAdjust", "spacingAndGlyphs");
cap1.append("tspan").attr("font-weight", "bold").text("Figure D2");
cap1.append("tspan").text(": Water level data from monitoring wells and precipitation analysis for a growing season presented on the same");
svg.append("text").attr("x", 22).attr("y", 1028)
  .attr("font-family", CAP).attr("font-size", 22).attr("fill", "#111")
  .attr("textLength", 1283).attr("lengthAdjust", "spacingAndGlyphs")
  .text("time scale. This allows for a rapid visual assessment of water levels over a growing season in the context of antecedent");
svg.append("text").attr("x", 22).attr("y", 1057)
  .attr("font-family", CAP).attr("font-size", 22).attr("fill", "#111")
  .text("precipitation");
</script>
</body>
</html>
